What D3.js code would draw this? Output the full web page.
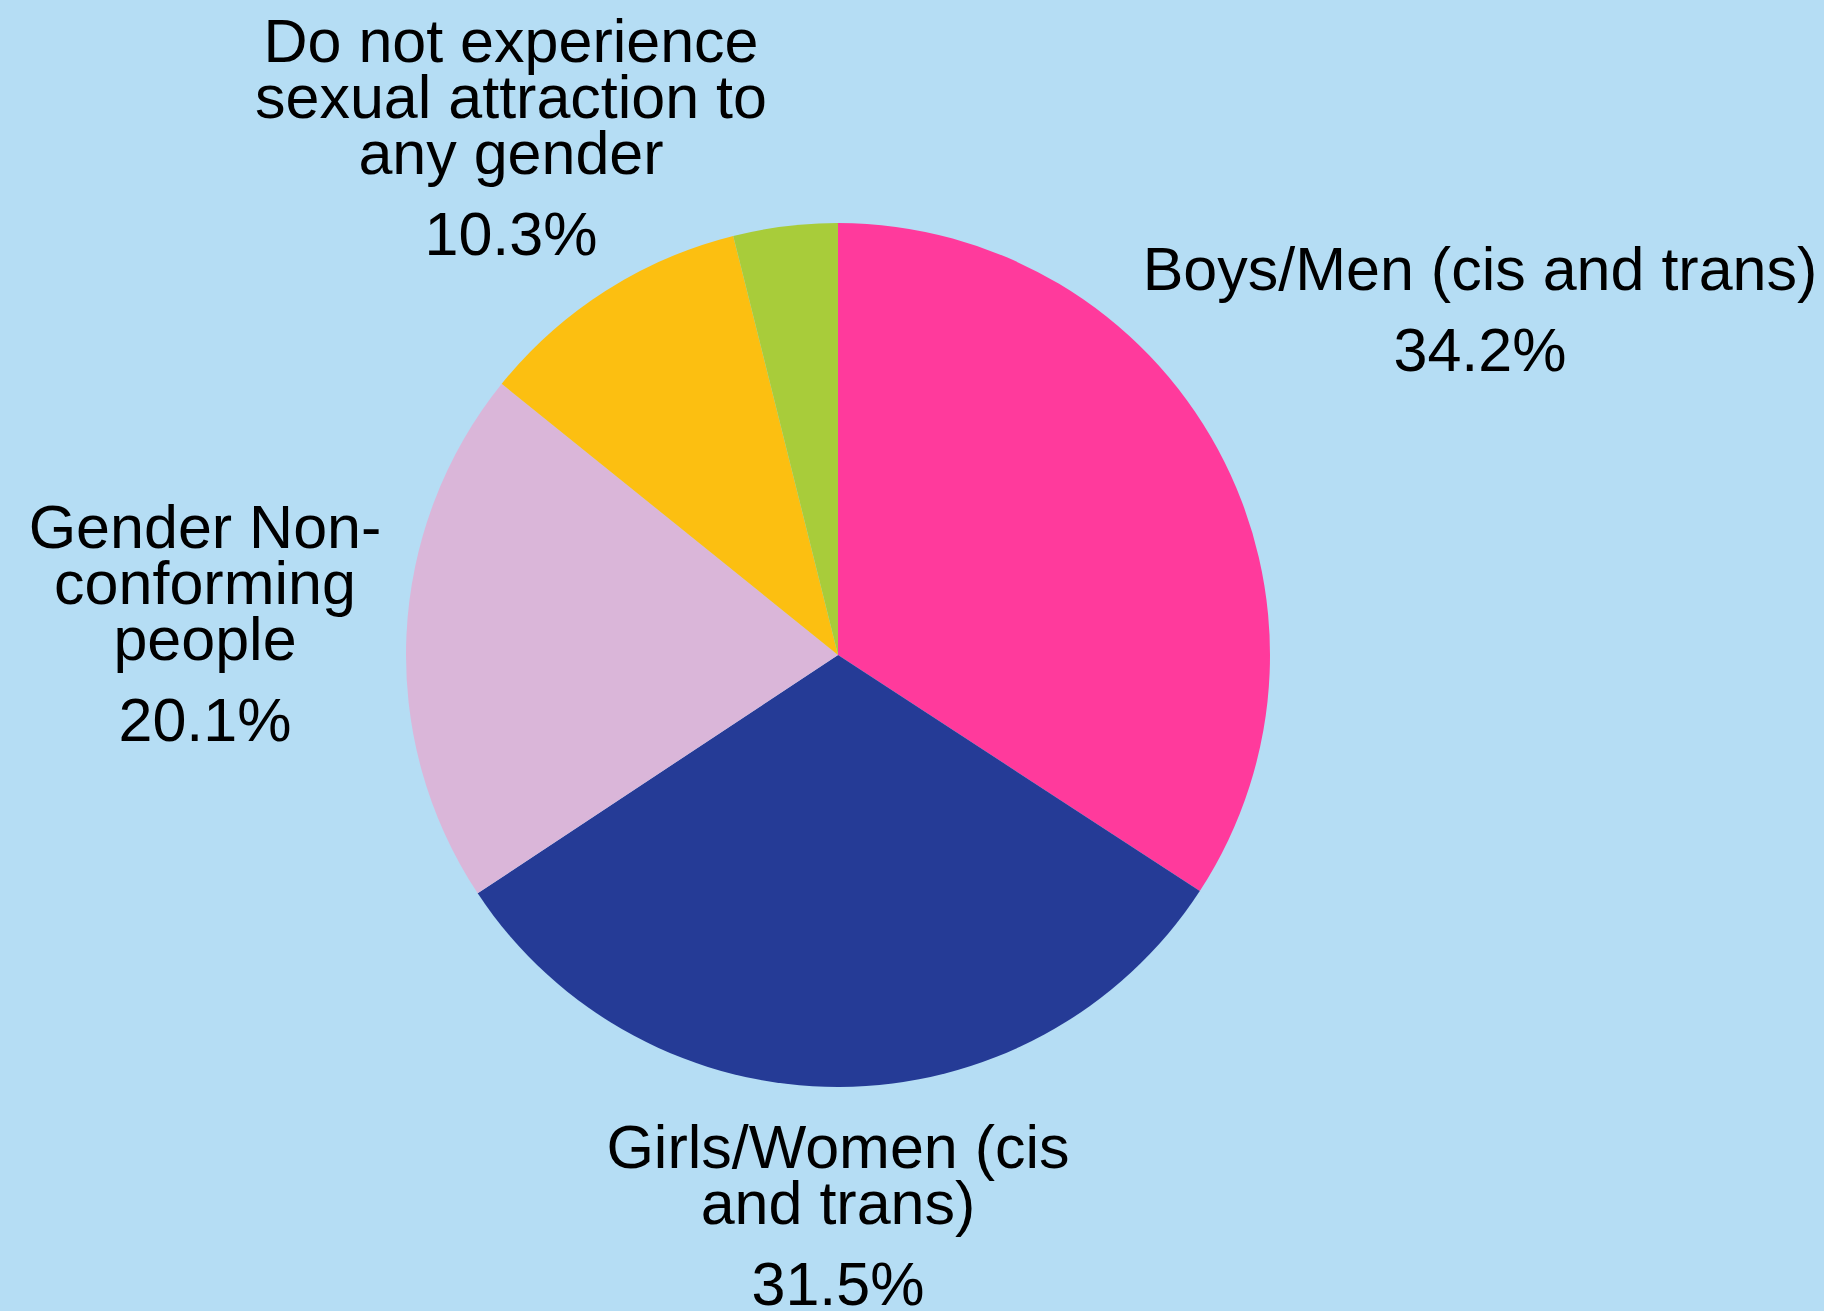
<!DOCTYPE html>
<html>
<head>
<meta charset="utf-8">
<script src="https://cdn.jsdelivr.net/npm/d3@7"></script>
<style>
  html, body { margin: 0; padding: 0; background: #b5ddf4; }
  svg { display: block; }
  text { font-family: "Liberation Sans", Arial, Helvetica, sans-serif; fill: #000; }
</style>
</head>
<body>
<svg id="chart" width="1824" height="1311"></svg>
<script>
// ---- Data ----
const categories = [
  "Boys/Men (cis and trans)",
  "Girls/Women (cis and trans)",
  "Gender Non-conforming people",
  "Do not experience sexual attraction to any gender",
  "Other"
];
const values = [34.2, 31.5, 20.1, 10.3, 3.9];
const labelLines = [
  ["Boys/Men (cis and trans)"],
  ["Girls/Women (cis", "and trans)"],
  ["Gender Non-", "conforming", "people"],
  ["Do not experience", "sexual attraction to", "any gender"],
  []
];
const showLabel = [true, true, true, true, false];
const colors = ["#ff3a9c", "#253b96", "#dab6d9", "#fcbf11", "#a8cc3a"];

// ---- Layout ----
const W = 1824, H = 1311;
const cx = 838, cy = 655, R = 432;
const fontSize = 61, lineGap = 56, pctGap = 81;
const labelAnchors = [
  { x: 1480, y: 290 },
  { x: 838, y: 1168 },
  { x: 205, y: 548 },
  { x: 511, y: 62 },
  null
];

const svg = d3.select("#chart");
svg.append("rect").attr("width", W).attr("height", H).attr("fill", "#b5ddf4");

const data = categories.map((c, i) => ({ cat: c, value: values[i], i }));
const pie = d3.pie().value(d => d.value).sort(null).startAngle(0).endAngle(2 * Math.PI);
const arc = d3.arc().innerRadius(0).outerRadius(R);
const color = d3.scaleOrdinal().domain(categories).range(colors);

const g = svg.append("g").attr("transform", `translate(${cx},${cy})`);
g.selectAll("path")
  .data(pie(data))
  .join("path")
  .attr("d", arc)
  .attr("fill", d => color(d.data.cat));

const fmt = d3.format(".1f");
const labels = svg.append("g");
data.forEach((d, i) => {
  if (!showLabel[i]) return;
  const a = labelAnchors[i];
  const t = labels.append("text")
    .attr("text-anchor", "middle")
    .attr("font-size", fontSize);
  const lines = labelLines[i];
  lines.forEach((ln, k) => {
    t.append("tspan").attr("x", a.x).attr("y", a.y + k * lineGap).text(ln);
  });
  t.append("tspan")
    .attr("x", a.x)
    .attr("y", a.y + (lines.length - 1) * lineGap + pctGap)
    .text(fmt(d.value) + "%");
});
</script>
</body>
</html>
